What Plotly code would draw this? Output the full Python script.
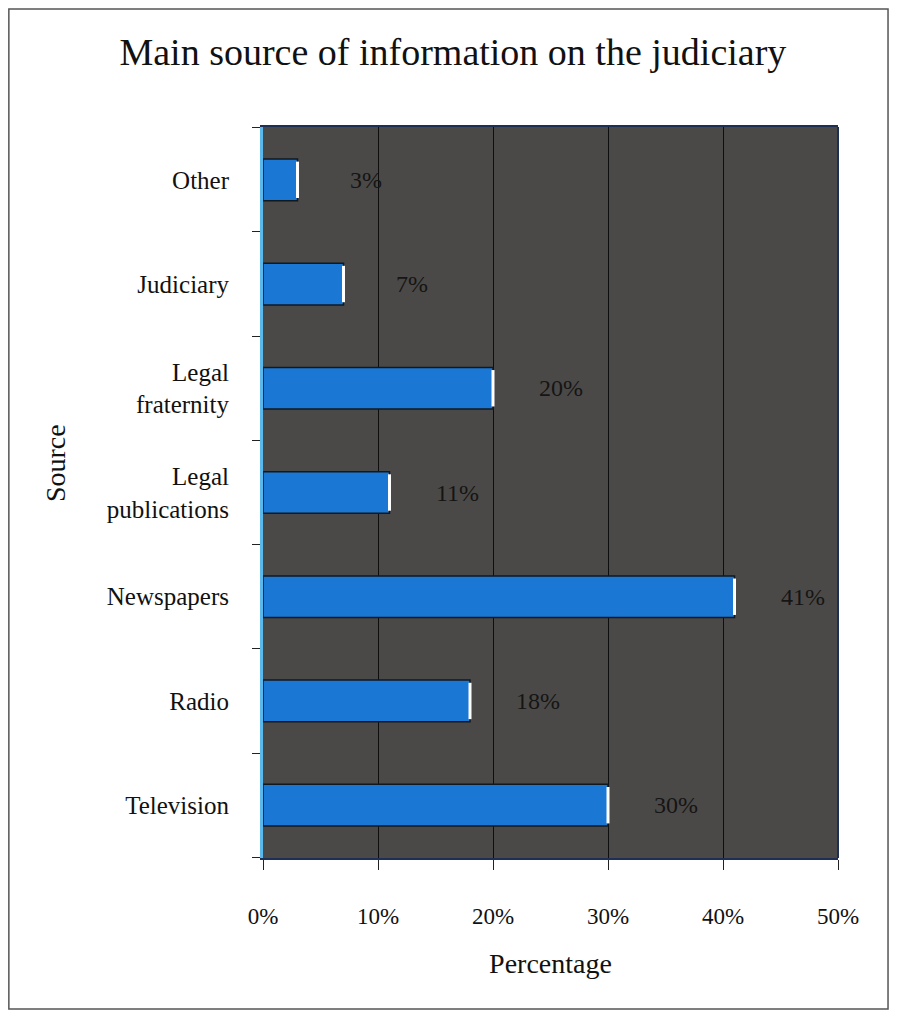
import plotly.graph_objects as go

sources = ["Television", "Radio", "Newspapers", "Legal<br>publications",
           "Legal<br>fraternity", "Judiciary", "Other"]
shares = [30, 18, 41, 11, 20, 7, 3]
x_ticks = [0, 10, 20, 30, 40, 50]

serif = "Liberation Serif, Times New Roman, serif"

fig = go.Figure()
fig.add_trace(go.Bar(
    y=sources, x=shares, orientation="h", width=0.4,
    marker=dict(color="#1a78d4", line=dict(color="#101820", width=1.5)),
    showlegend=False, hoverinfo="x+y",
))
# white highlight on each bar's end
fig.add_trace(go.Scatter(
    y=sources, x=shares, mode="markers", hoverinfo="skip", showlegend=False,
    marker=dict(symbol="line-ns", size=26, line=dict(color="white", width=3)),
))

for s, v in zip(sources, shares):
    fig.add_annotation(x=v, y=s, text=f"{v}%", showarrow=False,
                       xanchor="center", xshift=68,
                       font=dict(family=serif, size=24, color="#151515"))

fig.add_annotation(text="Source", xref="paper", yref="paper", x=-0.362, y=0.54,
                   textangle=-90, showarrow=False, xanchor="center", yanchor="middle",
                   font=dict(family=serif, size=28, color="#111"))

fig.update_layout(
    width=881, height=1002,
    margin=dict(l=255, r=51, t=119, b=152),
    paper_bgcolor="white",
    plot_bgcolor="#4b4947",
    title=dict(text="Main source of information on the judiciary", x=0.505, xanchor="center",
               y=0.956, yanchor="middle",
               font=dict(family=serif, size=38, color="#111")),
    font=dict(family=serif, size=24, color="#111"),
    xaxis=dict(range=[0, 50], tickvals=x_ticks, ticktext=[f"{t}%" for t in x_ticks],
               showgrid=True, gridcolor="#0e0e0e", gridwidth=1,
               ticks="outside", ticklen=10, tickcolor="#222",
               ticklabelstandoff=26, tickfont=dict(size=23),
               showline=True, linecolor="#1d2f55", linewidth=2, mirror=True,
               zeroline=False,
               title=dict(text="Percentage", standoff=26,
                          font=dict(family=serif, size=28, color="#111"))),
    yaxis=dict(showgrid=False, ticks="outside", tickson="boundaries", ticklen=8,
               tickcolor="#222", ticklabelstandoff=26, tickfont=dict(size=25),
               showline=True, linecolor="#5ab8ec", linewidth=3),
    bargap=0.6,
)

fig.add_shape(type="line", xref="paper", yref="paper", x0=1, x1=1, y0=0, y1=1,
              line=dict(color="#1d2f55", width=2))
fig.add_shape(type="rect", xref="paper", yref="paper",
              x0=-0.442, x1=1.087, y0=-0.2066, y1=1.1614,
              line=dict(color="#555", width=1.5))

fig.write_html("out.html")
